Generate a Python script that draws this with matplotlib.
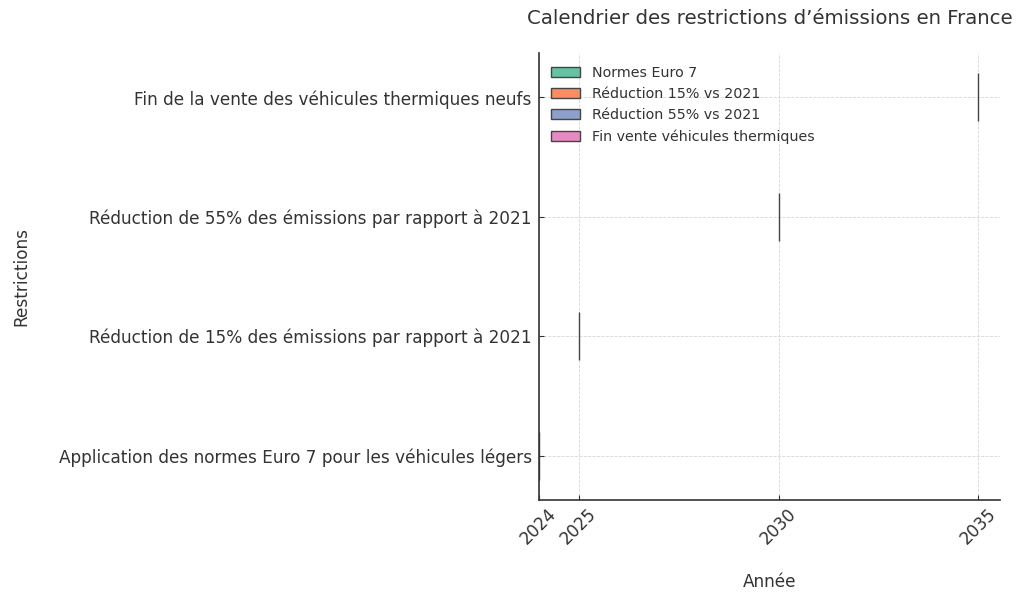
import matplotlib.pyplot as plt

# Restrictions (y categories) and their year
restrictions = [
    "Application des normes Euro 7 pour les véhicules légers",
    "Réduction de 15% des émissions par rapport à 2021",
    "Réduction de 55% des émissions par rapport à 2021",
    "Fin de la vente des véhicules thermiques neufs",
]
years = [2024, 2025, 2030, 2035]
legend_labels = ["Normes Euro 7", "Réduction 15% vs 2021",
                 "Réduction 55% vs 2021", "Fin vente véhicules thermiques"]
colors = ["#66c2a5", "#fc8d62", "#8da0cb", "#e78ac3"]

plt.rcParams['text.color'] = '#333333'
plt.rcParams['axes.labelcolor'] = '#333333'
plt.rcParams['xtick.color'] = '#333333'
plt.rcParams['ytick.color'] = '#333333'
plt.rcParams['xtick.direction'] = 'in'
plt.rcParams['ytick.direction'] = 'in'

fig, ax = plt.subplots(figsize=(10.24, 6.03), dpi=100)

for i, (yr, col, lab) in enumerate(zip(years, colors, legend_labels)):
    ax.barh(i, 0, left=yr, height=0.4, color=col, edgecolor='#444444',
            linewidth=1, label=lab)

ax.set_yticks(range(len(restrictions)))
ax.set_yticklabels(restrictions, fontsize=12.2)
ax.set_xticks(years)
ax.set_xticklabels([str(y) for y in years], rotation=45, fontsize=12.2)
ax.tick_params(axis='y', pad=5)
ax.set_xlim(2024, 2035.55)

ax.set_xlabel("Année", fontsize=12.2, labelpad=18)
ax.set_ylabel("Restrictions", fontsize=12.2, labelpad=20)
ax.set_title("Calendrier des restrictions d’émissions en France", fontsize=14.2, pad=21)

ax.grid(True, linestyle='--', linewidth=0.6, color='#cccccc', alpha=0.8)
ax.set_axisbelow(True)
for s in ['top', 'right']:
    ax.spines[s].set_visible(False)
for s in ['left', 'bottom']:
    ax.spines[s].set_color('#333333')
    ax.spines[s].set_linewidth(1.2)

ax.legend(loc='upper left', fontsize=10.3, frameon=False)

plt.subplots_adjust(left=0.526, right=0.977, top=0.912, bottom=0.171)
plt.savefig("out.png", dpi=100)
